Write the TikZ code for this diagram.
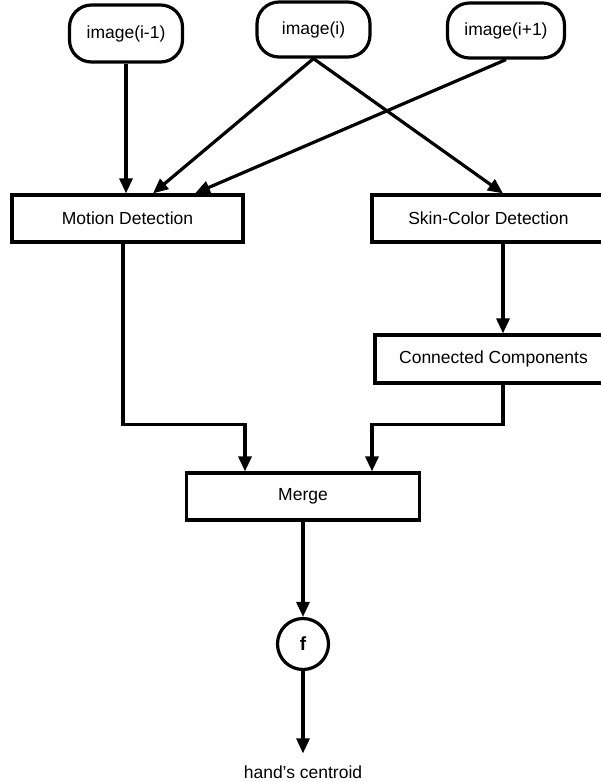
\documentclass[tikz,border=0pt]{standalone}
\usepackage{fontspec}
\setmainfont{Liberation Sans}
\usetikzlibrary{arrows.meta}
\begin{document}
\begin{tikzpicture}[x=1pt,y=-1pt,
  font=\fontsize{17.5}{21}\selectfont,
  every node/.style={inner sep=0pt},
  imgbox/.style={draw, line width=3.2pt, rounded corners=22pt, minimum height=55pt},
  procbox/.style={draw, line width=3.2pt, minimum height=47pt},
  fcirc/.style={draw, circle, line width=3.2pt, minimum size=51pt, font=\bfseries\fontsize{19}{22}\selectfont},
  arr/.style={line width=3.2pt, -{Triangle[length=15pt,width=13pt]}}]
\useasboundingbox (0,0) rectangle (601,782);
\clip (0,0) rectangle (601,782);
% image nodes
\node[imgbox, minimum width=113pt, minimum height=57pt] (im1) at (126,33.5) {image(i-1)};
\node[imgbox, minimum width=113pt] (im) at (313.5,29.5) {image(i)};
\node[imgbox, minimum width=117pt] (im2) at (506,30.5) {image(i+1)};
% processing boxes
\node[procbox, minimum width=231pt] (motion) at (127.5,218.5) {Motion Detection};
\node[procbox, minimum width=233pt] (skin) at (488.5,218.5) {Skin-Color Detection};
\node[procbox, minimum width=237pt, minimum height=48pt] (conn) at (493.5,359) {Connected Components};
\node[procbox, minimum width=233pt] (merge) at (303,496.5) {Merge};
\node[fcirc] (f) at (303,644) {f};
\node (out) at (303,772) {hand’s centroid};
% connectors
\draw[arr] (im1.south) -- (im1.south |- motion.north);
\draw[arr] (im.south) -- ([xshift=25.5pt]motion.north);
\draw[arr] (im.south) -- ([xshift=14.5pt]skin.north);
\draw[arr] (im2.south) -- ([xshift=67.5pt]motion.north);
\draw[arr] ([xshift=-4.5pt]motion.south) -- ++(0,181) -| ([xshift=-58pt]merge.north);
\draw[arr] ([xshift=14.5pt]skin.south) -- ([xshift=14.5pt]skin.south |- conn.north);
\draw[arr] ([xshift=9.5pt]conn.south) -- ++(0,40) -| ([xshift=69pt]merge.north);
\draw[arr] (merge.south) -- (f.north);
\draw[arr] (f.south) -- ([yshift=12pt]out.north);
\end{tikzpicture}
\end{document}
